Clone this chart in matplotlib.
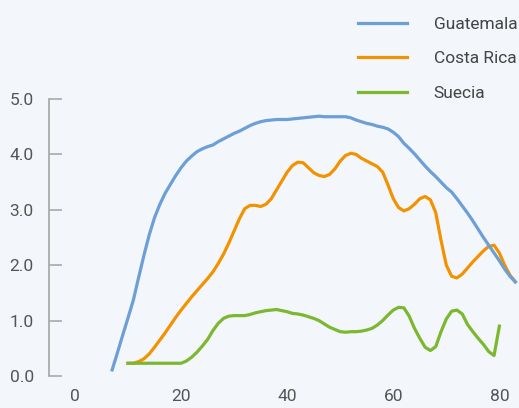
import numpy as np
import matplotlib.pyplot as plt

# datos
edad_gua = [7, 8, 9, 10, 11, 12, 13, 14, 15, 16, 17, 18, 19, 20, 21, 22, 23, 24, 25, 26, 27, 28, 29, 30,
            31, 32, 33, 34, 35, 36, 37, 38, 39, 40, 41, 42, 43, 44, 45, 46, 47, 48, 49, 50, 51, 52, 53, 54,
            55, 56, 57, 58, 59, 60, 61, 62, 63, 64, 65, 66, 67, 68, 69, 70, 71, 72, 73, 74, 75, 76, 77, 78,
            79, 80, 81, 82, 83]
guatemala = [0.11, 0.42, 0.74, 1.05, 1.37, 1.78, 2.18, 2.55, 2.86, 3.10, 3.30, 3.46, 3.62, 3.76, 3.88, 3.97,
             4.05, 4.10, 4.14, 4.17, 4.23, 4.28, 4.33, 4.38, 4.42, 4.47, 4.52, 4.56, 4.59, 4.61, 4.62, 4.63,
             4.63, 4.63, 4.64, 4.65, 4.66, 4.67, 4.68, 4.69, 4.68, 4.68, 4.68, 4.68, 4.68, 4.66, 4.62, 4.59,
             4.56, 4.54, 4.51, 4.49, 4.46, 4.40, 4.32, 4.20, 4.11, 4.01, 3.90, 3.79, 3.69, 3.60, 3.50, 3.40,
             3.32, 3.20, 3.07, 2.94, 2.80, 2.65, 2.50, 2.36, 2.22, 2.08, 1.93, 1.80, 1.70]

edad_cr = [10, 11, 12, 13, 14, 15, 16, 17, 18, 19, 20, 21, 22, 23, 24, 25, 26, 27, 28, 29, 30, 31, 32, 33,
           34, 35, 36, 37, 38, 39, 40, 41, 42, 43, 44, 45, 46, 47, 48, 49, 50, 51, 52, 53, 54, 55, 56, 57,
           58, 59, 60, 61, 62, 63, 64, 65, 66, 67, 68, 69, 70, 71, 72, 73, 74, 75, 76, 77, 78, 79, 80, 81,
           82, 83]
costa_rica = [0.23, 0.23, 0.26, 0.31, 0.40, 0.52, 0.65, 0.78, 0.92, 1.06, 1.19, 1.31, 1.43, 1.54, 1.65, 1.76,
              1.88, 2.03, 2.20, 2.40, 2.62, 2.84, 3.02, 3.08, 3.08, 3.06, 3.10, 3.20, 3.36, 3.52, 3.68, 3.80,
              3.86, 3.85, 3.76, 3.67, 3.62, 3.60, 3.64, 3.74, 3.88, 3.98, 4.02, 4.00, 3.93, 3.88, 3.83, 3.78,
              3.68, 3.45, 3.20, 3.04, 2.98, 3.02, 3.10, 3.20, 3.24, 3.18, 2.95, 2.45, 2.00, 1.80, 1.77, 1.84,
              1.95, 2.06, 2.16, 2.26, 2.34, 2.36, 2.22, 2.00, 1.82, 1.70]

edad_sue = [10, 11, 12, 13, 14, 15, 16, 17, 18, 19, 20, 21, 22, 23, 24, 25, 26, 27, 28, 29, 30, 31, 32, 33,
            34, 35, 36, 37, 38, 39, 40, 41, 42, 43, 44, 45, 46, 47, 48, 49, 50, 51, 52, 53, 54, 55, 56, 57,
            58, 59, 60, 61, 62, 63, 64, 65, 66, 67, 68, 69, 70, 71, 72, 73, 74, 75, 76, 77, 78, 79, 80]
suecia = [0.23, 0.23, 0.23, 0.23, 0.23, 0.23, 0.23, 0.23, 0.23, 0.23, 0.23, 0.27, 0.34, 0.43, 0.54, 0.66,
          0.82, 0.95, 1.04, 1.08, 1.09, 1.09, 1.09, 1.11, 1.14, 1.16, 1.18, 1.19, 1.20, 1.18, 1.16, 1.13,
          1.12, 1.10, 1.07, 1.04, 1.00, 0.94, 0.88, 0.84, 0.80, 0.79, 0.80, 0.80, 0.81, 0.83, 0.86, 0.92,
          1.00, 1.10, 1.19, 1.24, 1.23, 1.08, 0.86, 0.68, 0.52, 0.46, 0.53, 0.80, 1.03, 1.17, 1.19, 1.12,
          0.93, 0.80, 0.68, 0.57, 0.44, 0.37, 0.90]

xticks = [0, 20, 40, 60, 80]
yticks = [0, 1, 2, 3, 4, 5]

fondo = '#f3f6fa'
plt.rcParams['font.family'] = ['Roboto', 'DejaVu Sans']

fig = plt.figure(figsize=(5.19, 4.08), dpi=100, facecolor=fondo)
ax = fig.add_axes([49/519, 32/408, 470/519, 277/408], facecolor=fondo)

l1, = ax.plot(edad_gua, guatemala, color='#6c9fd6', lw=2.3, label='Guatemala', zorder=3, clip_on=False)
l2, = ax.plot(edad_cr, costa_rica, color='#f39200', lw=2.3, label='Costa Rica', zorder=2, clip_on=False)
l3, = ax.plot(edad_sue, suecia, color='#7cb82f', lw=2.3, label='Suecia', zorder=4, clip_on=False)

ax.set_xlim(-4.9, 83.7)
ax.set_ylim(0, 5)
ax.set_xticks(xticks)
ax.set_xticklabels([str(v) for v in xticks])
ax.set_yticks(yticks)
ax.set_yticklabels([f"{v:.1f}" for v in yticks])

for s in ['top', 'right', 'bottom']:
    ax.spines[s].set_visible(False)
ax.spines['left'].set_color('#aaaaaa')
ax.spines['left'].set_linewidth(1.3)
ax.tick_params(axis='y', direction='in', length=9.5, width=1.2, color='#aaaaaa',
               pad=11, labelsize=12.5, labelcolor='#555555')
ax.tick_params(axis='x', length=0, pad=9.5, labelsize=12.5, labelcolor='#555555')

fig.legend(handles=[l1, l2, l3], loc='upper left', bbox_to_anchor=(358/519, 1 - 17/408),
           frameon=False, borderpad=0, borderaxespad=0, handlelength=2.8, handletextpad=1.55,
           labelspacing=1.1, fontsize=12.5, labelcolor='#444444')

fig.savefig('out.png', dpi=100, facecolor=fondo)
